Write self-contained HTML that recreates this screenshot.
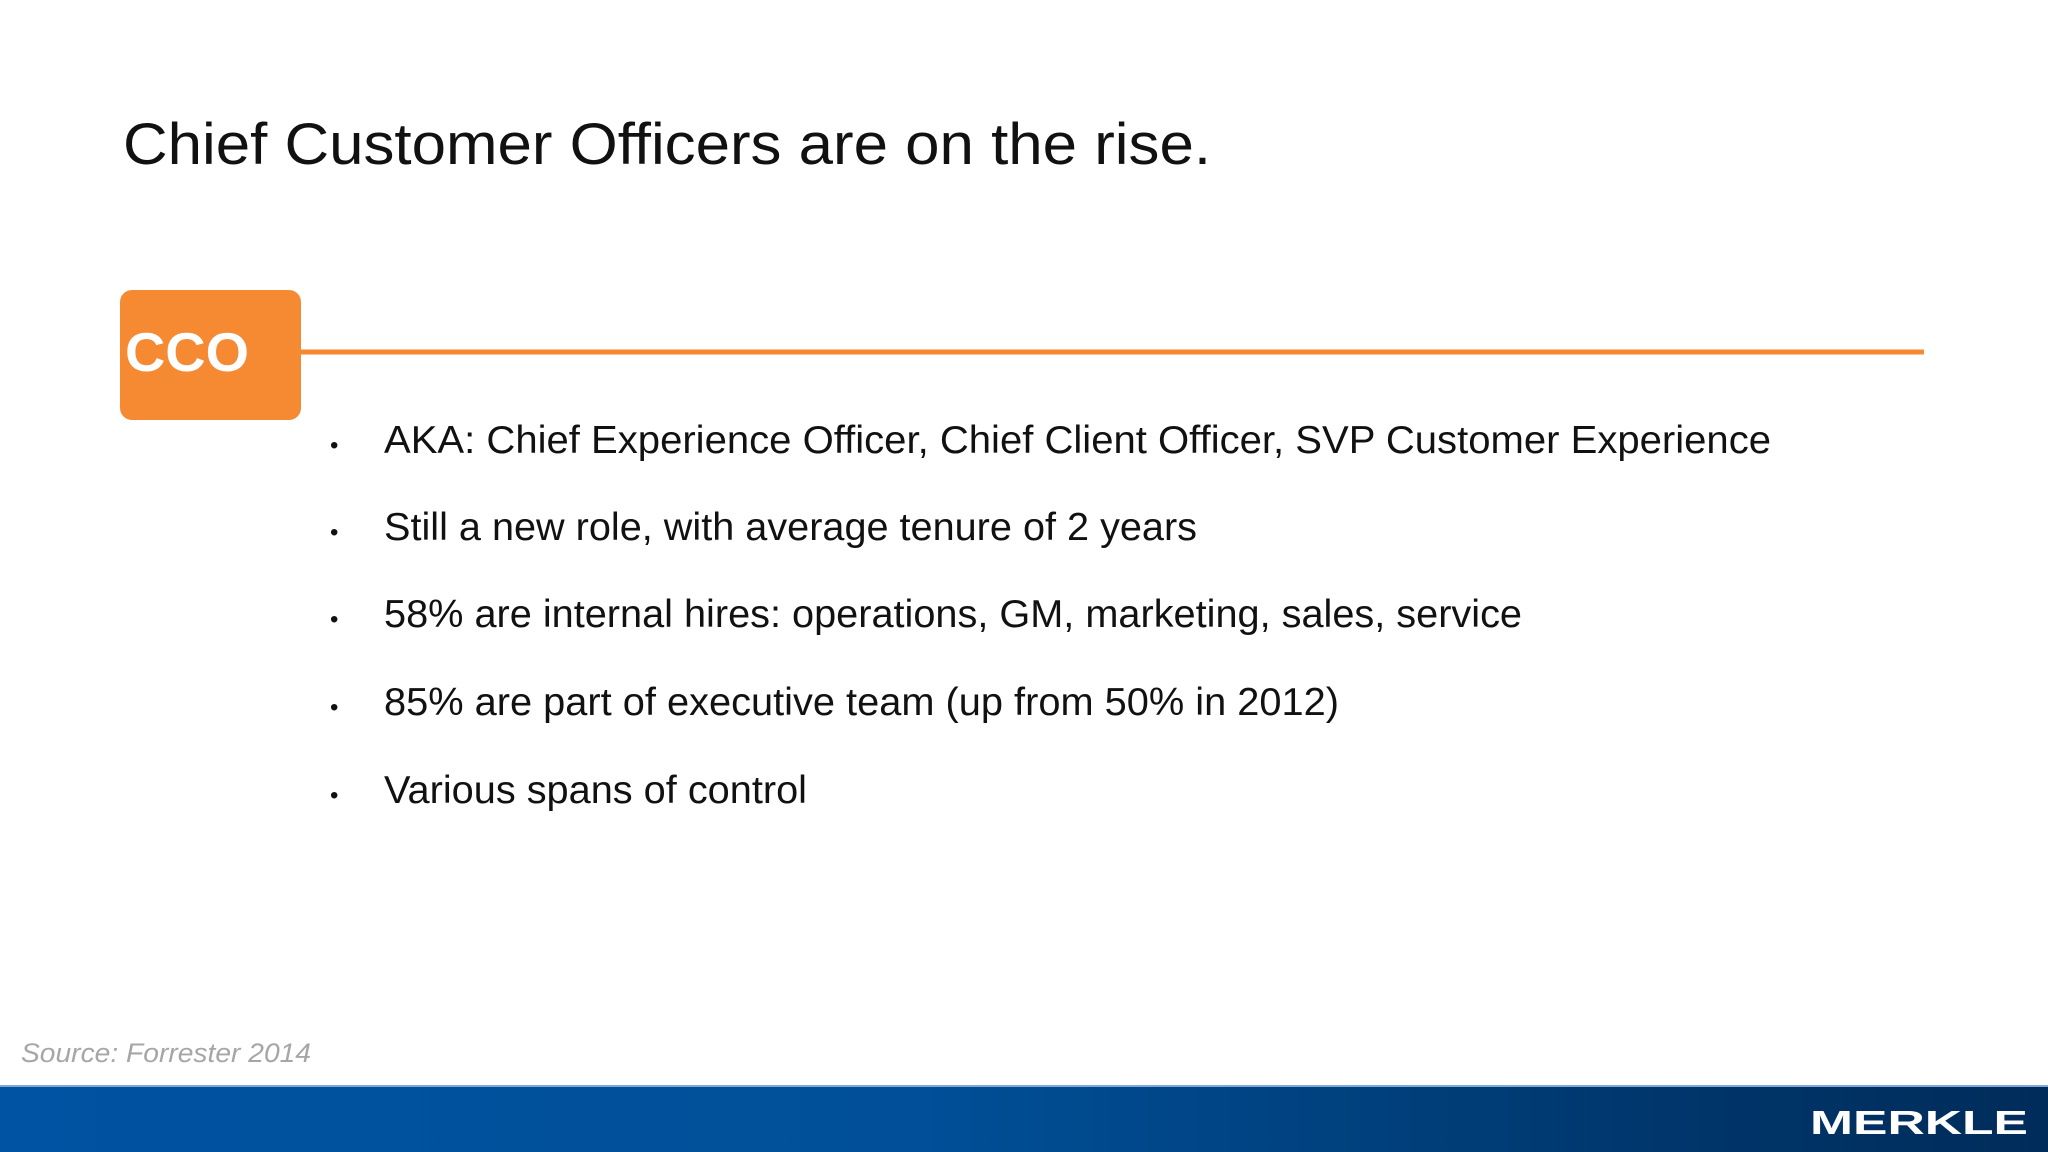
<!DOCTYPE html>
<html><head><meta charset="utf-8"><style>
html,body{margin:0;padding:0;background:#fff;}
svg{display:block;}
</style></head><body>
<svg width="2048" height="1152" viewBox="0 0 2048 1152" xmlns="http://www.w3.org/2000/svg">
<defs>
<linearGradient id="band" x1="0" y1="0" x2="1" y2="0">
<stop offset="0" stop-color="#0053a2"/>
<stop offset="0.45" stop-color="#004f98"/>
<stop offset="0.8" stop-color="#00376d"/>
<stop offset="1" stop-color="#002c5a"/>
</linearGradient>
</defs>
<rect width="2048" height="1152" fill="#fff"/>
<text x="123" y="164" font-family="Liberation Sans, sans-serif" font-size="58" fill="#111" textLength="1088" lengthAdjust="spacingAndGlyphs">Chief Customer Officers are on the rise.</text>
<line x1="295" y1="352" x2="1924" y2="352" stroke="#f58a33" stroke-width="5"/>
<rect x="120" y="290" width="181" height="130" rx="12" fill="#f58a33"/>
<text x="125" y="371" font-family="Liberation Sans, sans-serif" font-weight="bold" font-size="55" fill="#fff" textLength="124" lengthAdjust="spacingAndGlyphs">CCO</text>
<g font-family="Liberation Sans, sans-serif" font-size="39" fill="#111">
<text x="330" y="453"><tspan font-size="24">•</tspan></text>
<text x="384" y="453" textLength="1387" lengthAdjust="spacingAndGlyphs">AKA: Chief Experience Officer, Chief Client Officer,  SVP Customer Experience</text>
<text x="330" y="540"><tspan font-size="24">•</tspan></text>
<text x="384" y="540" textLength="813" lengthAdjust="spacingAndGlyphs">Still a new role, with average tenure of 2 years</text>
<text x="330" y="627"><tspan font-size="24">•</tspan></text>
<text x="384" y="627" textLength="1138" lengthAdjust="spacingAndGlyphs">58% are internal hires: operations, GM, marketing, sales, service</text>
<text x="330" y="715"><tspan font-size="24">•</tspan></text>
<text x="384" y="715" textLength="955" lengthAdjust="spacingAndGlyphs">85% are part of executive team (up from 50% in 2012)</text>
<text x="330" y="803"><tspan font-size="24">•</tspan></text>
<text x="384" y="803" textLength="423" lengthAdjust="spacingAndGlyphs">Various spans of control</text>
</g>
<text x="21" y="1062" font-family="Liberation Sans, sans-serif" font-style="italic" font-size="27" fill="#a6a6a6" textLength="290" lengthAdjust="spacingAndGlyphs">Source: Forrester 2014</text>
<rect x="0" y="1086" width="2048" height="66" fill="url(#band)"/>
<line x1="0" y1="1086" x2="2048" y2="1086" stroke="#7fa8d6" stroke-width="2"/>
<text x="1810" y="1134" font-family="Liberation Sans, sans-serif" font-weight="bold" font-size="33" fill="#fff" textLength="218" lengthAdjust="spacingAndGlyphs">MERKLE</text>
</svg>
</body></html>
